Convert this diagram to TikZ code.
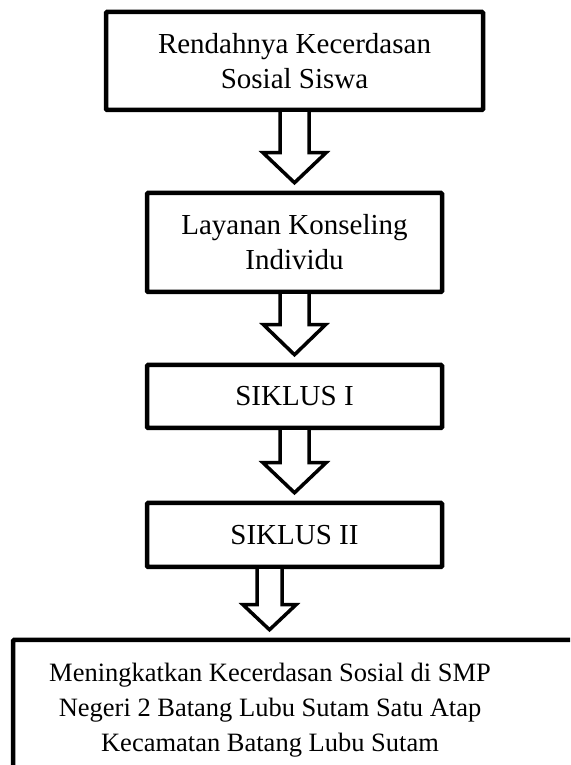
\documentclass[tikz,border=0pt]{standalone}
\usepackage{fontspec}
\setmainfont{Liberation Serif}
\usepackage{tikz}
\usetikzlibrary{calc}
\usetikzlibrary{positioning}

\tikzset{
  kotak/.style={draw, line width=4.5pt, rounded corners=1pt, align=center,
    minimum width=295pt, font=\fontsize{29}{35}\selectfont},
  panah/.style={draw, fill=white, line width=3.5pt, line join=miter},
}

% panah blok kosong: dari, ke, x tengah, setengah batang, setengah kepala, panjang kepala
\newcommand{\panahblok}[6]{%
  \path (#3,0 |- #1.south) coordinate (p-atas)
        (#3,0 |- #2.north) ++(0,8) coordinate (p-ujung)
        (p-ujung) ++(0,#6) coordinate (p-leher);
  \draw[panah] ($(p-atas)+(-#4,0)$) -- ($(p-leher)+(-#4,0)$)
    -- ($(p-leher)+(-#5,0)$) -- (p-ujung) -- ($(p-leher)+(#5,0)$)
    -- ($(p-leher)+(#4,0)$) -- ($(p-atas)+(#4,0)$);
}

\begin{document}
\begin{tikzpicture}[x=1pt,y=1pt]
  \clip (0,0) rectangle (570,765);
  % Kotak-kotak
  \node[kotak, minimum width=377pt, minimum height=98pt] (rendah) at (294.5,704)
    {Rendahnya Kecerdasan\\Sosial Siswa};
  \node[kotak, minimum height=99pt] (layanan) at (294.5,522.5)
    {Layanan Konseling\\Individu};
  \node[kotak, minimum height=63pt] (siklus1) at (294.5,368.5) {SIKLUS I};
  \node[kotak, minimum height=64pt] (siklus2) at (294.5,230) {SIKLUS II};
  % Kotak hasil (terpotong di kanan dan bawah)
  \node[kotak, minimum width=607pt, minimum height=165pt] (hasil) at (316.5,42.5) {};
  \node[align=center, font=\fontsize{26.5}{35}\selectfont] (teks) at (270,55)
    {Meningkatkan Kecerdasan Sosial di SMP\\Negeri 2 Batang Lubu Sutam Satu Atap\\Kecamatan Batang Lubu Sutam};

  % Panah
  \panahblok{rendah}{layanan}{294.5}{14.5}{31.5}{30}
  \panahblok{layanan}{siklus1}{294.5}{14.5}{31}{30}
  \panahblok{siklus1}{siklus2}{294.5}{14.5}{31.5}{30}
  \panahblok{siklus2}{hasil}{269.5}{12.5}{26.5}{25}
\end{tikzpicture}
\end{document}
